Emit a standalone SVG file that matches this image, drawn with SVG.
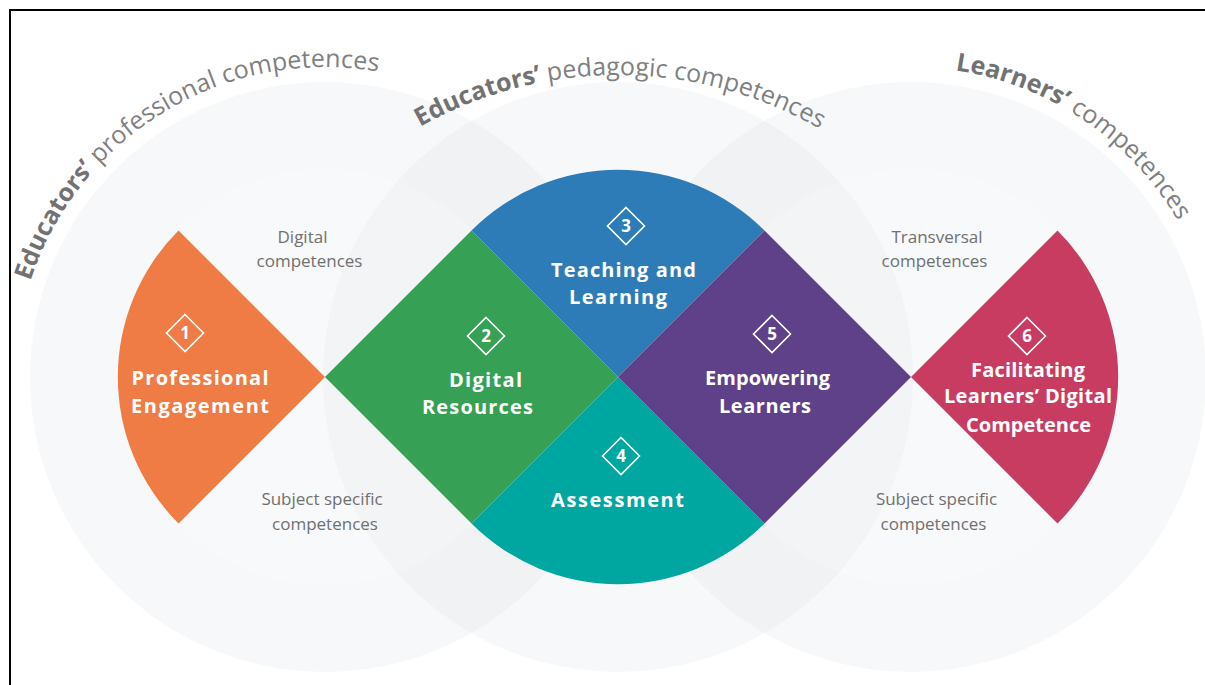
<svg xmlns="http://www.w3.org/2000/svg" xmlns:xlink="http://www.w3.org/1999/xlink" width="1205" height="685" viewBox="0 0 1205 685">
  <style>
    .halo { fill: #d4d8dc; fill-opacity: 0.18; }
    .core { fill: #ffffff; fill-opacity: 0.18; }
    .arc { font-family: "Open Sans", "Liberation Sans", sans-serif; font-size: 25px; fill: #808080; }
    .arc .strong { font-weight: 700; fill: #727272; }
    .ctx { font-family: "Open Sans", "Liberation Sans", sans-serif; font-size: 17px; fill: #707070; text-anchor: middle; }
    .lbl { font-family: "Open Sans", "Liberation Sans", sans-serif; font-size: 20px; font-weight: 700; fill: #ffffff; text-anchor: middle; }
    .num { font-family: "Open Sans", "Liberation Sans", sans-serif; font-size: 17px; font-weight: 700; fill: #ffffff; text-anchor: middle; }
    .badge { fill: none; stroke: #ffffff; stroke-width: 1.6; }
  </style>
  <defs>
    <path id="badge" d="M0,-18.5 L18.5,0 L0,18.5 L-18.5,0 Z"/>
    <!-- baselines of the three curved headings -->
    <path id="arc-left" d="M37.6,493.1 A310,310 0 0 1 555.4,169.6"/>
    <path id="arc-mid" d="M357.7,169.8 A405,405 0 0 1 878.3,169.8"/>
    <path id="arc-right" d="M681.4,167.6 A310,310 0 0 1 1196.4,495.6"/>
  </defs>

  <rect width="1205" height="685" fill="#ffffff"/>

  <!-- overlapping competence areas -->
  <g id="areas">
    <circle class="halo" cx="325" cy="377" r="295"/>
    <circle class="halo" cx="618" cy="377" r="295"/>
    <circle class="halo" cx="911" cy="377" r="295"/>
    <circle class="core" cx="325" cy="377" r="208"/>
    <circle class="core" cx="618" cy="377" r="208"/>
    <circle class="core" cx="911" cy="377" r="208"/>
  </g>

  <!-- curved area headings -->
  <g id="headings" class="arc">
    <text><textPath href="#arc-left" startOffset="50.6%" text-anchor="middle"><tspan class="strong">Educators’</tspan> professional competences</textPath></text>
    <text><textPath href="#arc-mid" startOffset="50.4%" text-anchor="middle"><tspan class="strong">Educators’</tspan> pedagogic competences</textPath></text>
    <text><textPath href="#arc-right" startOffset="51%" text-anchor="middle"><tspan class="strong">Learners’</tspan> competences</textPath></text>
  </g>

  <!-- context labels -->
  <g id="context" class="ctx">
    <text x="302.5" y="243">Digital</text>
    <text x="309.5" y="267">competences</text>
    <text x="322" y="505">Subject specific</text>
    <text x="325" y="530">competences</text>
    <text x="937" y="243">Transversal</text>
    <text x="934.5" y="267">competences</text>
    <text x="936.5" y="505">Subject specific</text>
    <text x="933.5" y="530">competences</text>
  </g>

  <g id="node-1">
    <path d="M325,377 L178.5,230.5 A207.2,207.2 0 0 0 178.5,523.5 Z" fill="#ef7b45"/>
    <use href="#badge" x="185" y="333" class="badge"/>
    <text class="num" x="185" y="339">1</text>
    <text class="lbl" x="200" y="385" textLength="137" lengthAdjust="spacing">Professional</text>
    <text class="lbl" x="200" y="413" textLength="138" lengthAdjust="spacing">Engagement</text>
  </g>

  <g id="node-2">
    <path d="M325,377 L471.5,230.5 L618,377 L471.5,523.5 Z" fill="#36a055"/>
    <use href="#badge" x="486" y="336" class="badge"/>
    <text class="num" x="486" y="342">2</text>
    <text class="lbl" x="485.5" y="387" textLength="73" lengthAdjust="spacing">Digital</text>
    <text class="lbl" x="477.5" y="414" textLength="111" lengthAdjust="spacing">Resources</text>
  </g>

  <g id="node-3">
    <path d="M618,377 L471.5,230.5 A207.2,207.2 0 0 1 764.5,230.5 Z" fill="#2e7cb7"/>
    <use href="#badge" x="626" y="226" class="badge"/>
    <text class="num" x="626" y="232">3</text>
    <text class="lbl" x="623.5" y="277" textLength="145" lengthAdjust="spacing">Teaching and</text>
    <text class="lbl" x="618" y="304" textLength="98" lengthAdjust="spacing">Learning</text>
  </g>

  <g id="node-4">
    <path d="M618,377 L764.5,523.5 A207.2,207.2 0 0 1 471.5,523.5 Z" fill="#00a6a0"/>
    <use href="#badge" x="621" y="456" class="badge"/>
    <text class="num" x="621" y="462">4</text>
    <text class="lbl" x="617.5" y="507" textLength="133" lengthAdjust="spacing">Assessment</text>
  </g>

  <g id="node-5">
    <path d="M618,377 L764.5,230.5 L911,377 L764.5,523.5 Z" fill="#5e4189"/>
    <use href="#badge" x="772" y="334" class="badge"/>
    <text class="num" x="772" y="340">5</text>
    <text class="lbl" x="767.5" y="385" textLength="125" lengthAdjust="spacing">Empowering</text>
    <text class="lbl" x="765" y="413" textLength="92" lengthAdjust="spacing">Learners</text>
  </g>

  <g id="node-6">
    <path d="M911,377 L1057.5,230.5 A207.2,207.2 0 0 1 1057.5,523.5 Z" fill="#c83c62"/>
    <use href="#badge" x="1027" y="336" class="badge"/>
    <text class="num" x="1027" y="342">6</text>
    <text class="lbl" x="1028" y="377" textLength="114" lengthAdjust="spacing">Facilitating</text>
    <text class="lbl" x="1028" y="403" textLength="168" lengthAdjust="spacing">Learners’ Digital</text>
    <text class="lbl" x="1028.5" y="432" textLength="125" lengthAdjust="spacing">Competence</text>
  </g>

  <!-- frame -->
  <path d="M10,685 V10 H1205" fill="none" stroke="#000000" stroke-width="2"/>
</svg>
